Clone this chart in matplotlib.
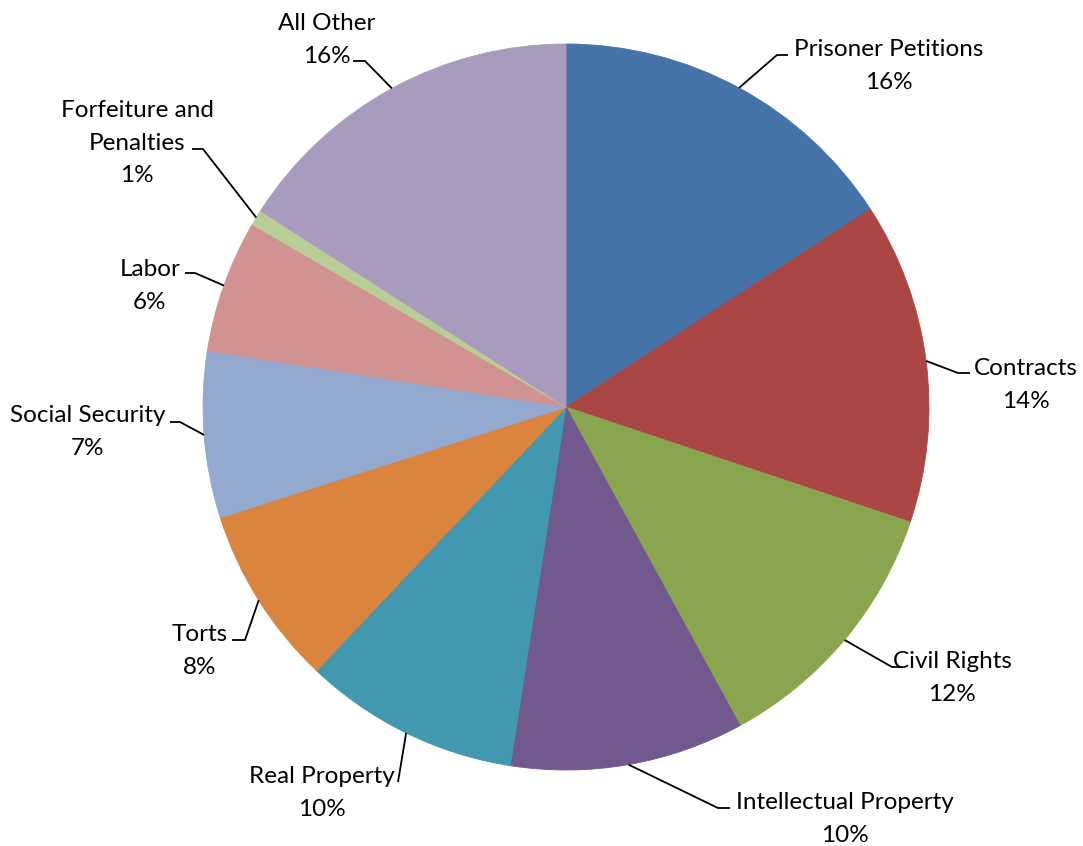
import numpy as np
import matplotlib
matplotlib.use("Agg")
import matplotlib.pyplot as plt

# data (share of cases)
categories = ["Prisoner Petitions", "Contracts", "Civil Rights", "Intellectual Property",
              "Real Property", "Torts", "Social Security", "Labor",
              "Forfeiture and\nPenalties", "All Other"]
shares = [15.8, 14.3, 11.9, 10.4, 9.6, 8.0, 7.4, 5.9, 0.7, 15.9]
pct_labels = ["16%", "14%", "12%", "10%", "10%", "8%", "7%", "6%", "1%", "16%"]

colors = ["#4572A7", "#AA4643", "#89A54E", "#71588F", "#4198AF",
          "#DB843D", "#93A9CF", "#D19392", "#B9CD96", "#A99BBD"]

W, H = 1083, 846
CX, CY, R = 566, H - 407, 363

# label layout in pixels (text centre, elbow of leader, end of leader near text)
text_pos = [(889, 66), (1026, 385), (952, 678), (845, 819), (322, 793),
            (200, 651), (88, 432), (150, 286), (137, 143), (327, 40)]
elbow = [(777, 55), (958, 373), (892, 667), (718, 808), (398, 782),
         (245, 640), (180, 422), (195, 273), (203, 149), (365, 61)]
tail = [(788, 55), (970, 373), (903, 667), (730, 808), (398, 782),
        (232, 640), (170, 422), (185, 273), (192, 149), (353, 61)]

plt.rcParams["font.family"] = ["Lato", "DejaVu Sans"]

fig = plt.figure(figsize=(W / 100, H / 100), dpi=100)
ax = fig.add_axes([0, 0, 1, 1])
wedges, _ = ax.pie(shares, colors=colors, startangle=90, counterclock=False,
                   center=(CX, CY), radius=R, wedgeprops=dict(linewidth=0.6))
for w, c in zip(wedges, colors):
    w.set_edgecolor(c)
ax.set_xlim(0, W)
ax.set_ylim(0, H)
ax.set_aspect("equal")
ax.axis("off")

for i, w in enumerate(wedges):
    mid = np.deg2rad((w.theta1 + w.theta2) / 2)
    x0, y0 = CX + R * np.cos(mid), CY + R * np.sin(mid)
    ex, ey = elbow[i]
    tx, ty = tail[i]
    ax.plot([x0, ex, tx], [y0, H - ey, H - ty], color="black", lw=1.3,
            solid_capstyle="butt")
    px, py = text_pos[i]
    ax.text(px, H - py, categories[i] + "\n" + pct_labels[i], ha="center", va="center",
            fontsize=17.5, linespacing=1.65, color="black")

fig.savefig("out.png", dpi=100)
